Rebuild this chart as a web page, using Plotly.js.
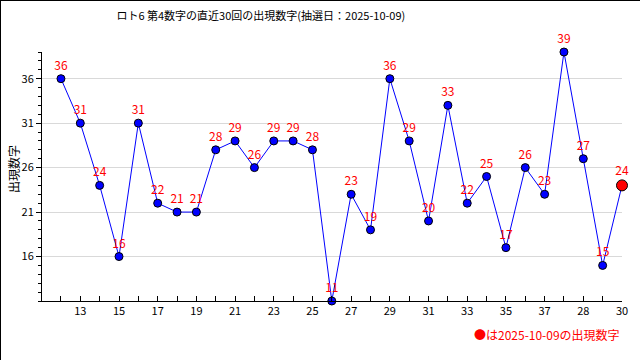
<!DOCTYPE html>
<html>
<head>
<meta charset="utf-8">
<script src="https://cdn.plot.ly/plotly-3.0.1.min.js"></script>
<style>
html,body{margin:0;padding:0;background:#fff;}
#chart{width:640px;height:360px;box-sizing:border-box;border:1px solid #000;}
</style>
</head>
<body>
<div id="chart"></div>
<script>
const drawIndex = Array.from({length: 30}, (_, i) => i + 1);
const values = [36,31,24,16,31,22,21,21,28,29,26,29,29,28,11,23,19,36,29,20,33,22,25,17,26,23,39,27,15,24];
const xTickLabels = ["13","15","17","19","21","23","25","27","29","31","33","35","37","28","30"];
const yTickValues = [16,21,26,31,36];
const titleText = "ロト6 第4数字の直近30回の出現数字(抽選日：2025-10-09)";
const yTitle = "出現数字";
const noteText = "●は2025-10-09の出現数字";

const xTickVals = xTickLabels.map((_, i) => (i + 1) * 2);
const font = "'Noto Sans CJK JP', 'DejaVu Sans', sans-serif";
const lastIdx = values.length - 1;

const traces = [
  {
    x: drawIndex, y: values, type: 'scatter', mode: 'lines+markers+text',
    line: {color: '#0000ff', width: 1},
    marker: {
      color: values.map((_, i) => i === lastIdx ? '#ff0000' : '#0000ff'),
      size: values.map((_, i) => i === lastIdx ? 11 : 8),
      opacity: 1,
      line: {color: '#000', width: 1}
    },
    text: values.map(String),
    textposition: 'top center',
    textfont: {color: '#ff0000', size: 12, family: font},
    cliponaxis: false,
    hoverinfo: 'x+y'
  }
];

const layout = {
  width: 640, height: 360,
  margin: {l: 41, r: 19, t: 51, b: 60},
  paper_bgcolor: '#fff', plot_bgcolor: '#fff',
  showlegend: false,
  title: {text: titleText, x: 0.406, xanchor: 'center', y: 0.958, yanchor: 'middle',
          font: {family: font, size: 11, color: '#000'}},
  xaxis: {
    range: [0.02, 30], showgrid: false, zeroline: false,
    showline: true, linecolor: '#000', linewidth: 1,
    tickmode: 'array', tickvals: xTickVals, ticktext: xTickLabels,
    ticks: 'inside', ticklen: 5, tickcolor: '#000',
    minor: {tickmode: 'linear', tick0: 1, dtick: 1, ticks: 'inside', ticklen: 5, tickcolor: '#000', showgrid: false},
    tickfont: {family: font, size: 11, color: '#000'}
  },
  yaxis: {
    range: [11, 39], zeroline: false,
    showline: true, linecolor: '#000', linewidth: 1,
    tickmode: 'array', tickvals: yTickValues,
    ticks: 'outside', ticklen: 5, tickcolor: '#000',
    showgrid: true, gridcolor: '#d9d9d9', gridwidth: 1,
    minor: {tickmode: 'linear', tick0: 11, dtick: 1, ticks: 'outside', ticklen: 3, tickcolor: '#000', showgrid: false},
    tickfont: {family: font, size: 11, color: '#000'}
  },
  annotations: [
    {text: yTitle, xref: 'paper', yref: 'paper', x: -0.05, y: 0.53, xanchor: 'center', yanchor: 'middle',
     textangle: -90, showarrow: false, font: {family: font, size: 12, color: '#000'}},
    {text: noteText, xref: 'paper', yref: 'paper', x: 1, y: -0.133, xanchor: 'right', yanchor: 'middle',
     showarrow: false, font: {family: font, size: 12, color: '#ff0000'}}
  ]
};

Plotly.newPlot('chart', traces, layout, {displayModeBar: false, staticPlot: true});
</script>
</body>
</html>
